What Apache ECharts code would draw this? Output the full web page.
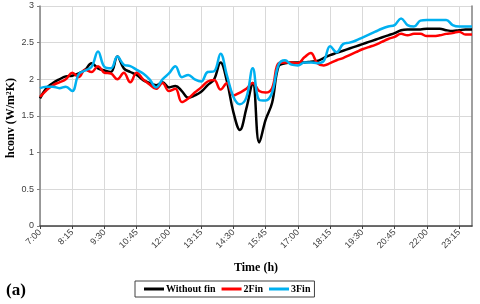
<!DOCTYPE html>
<html><head><meta charset="utf-8">
<script src="https://cdn.jsdelivr.net/npm/echarts@6/dist/echarts.min.js"></script>
<style>html,body{margin:0;padding:0;background:#fff}#c{width:480px;height:304px}</style>
</head><body><div id="c"></div>
<script>
const times = ["7:00","7:15","7:30","7:45","8:00","8:15","8:30","8:45","9:00","9:15","9:30","9:45","10:00","10:15","10:30","10:45","11:00","11:15","11:30","11:45","12:00","12:15","12:30","12:45","13:00","13:15","13:30","13:45","14:00","14:15","14:30","14:45","15:00","15:15","15:30","15:45","16:00","16:15","16:30","16:45","17:00","17:15","17:30","17:45","18:00","18:15","18:30","18:45","19:00","19:15","19:30","19:45","20:00","20:15","20:30","20:45","21:00","21:15","21:30","21:45","22:00","22:15","22:30","22:45","23:00","23:15","23:30","23:45"];
const withoutFin = [1.74,1.88,1.95,2.00,2.04,2.05,2.08,2.13,2.22,2.15,2.12,2.10,2.31,2.15,2.10,2.06,1.99,1.95,1.92,1.96,1.89,1.91,1.84,1.75,1.78,1.83,1.92,2.00,2.23,1.97,1.55,1.31,1.60,1.95,1.14,1.45,1.68,2.18,2.22,2.23,2.23,2.23,2.24,2.25,2.29,2.33,2.36,2.39,2.42,2.45,2.48,2.51,2.54,2.57,2.60,2.63,2.67,2.68,2.68,2.68,2.69,2.69,2.69,2.67,2.66,2.67,2.68,2.68];
const fin2 = [1.76,1.85,1.92,1.96,2.00,2.09,2.03,2.13,2.10,2.18,2.09,2.08,2.00,2.09,1.96,2.09,2.00,1.93,1.87,1.95,1.84,1.87,1.69,1.74,1.82,1.89,1.97,1.99,1.86,1.95,1.78,1.82,1.87,1.95,1.84,1.82,1.88,2.22,2.23,2.23,2.22,2.30,2.36,2.22,2.19,2.22,2.26,2.29,2.33,2.37,2.41,2.44,2.47,2.51,2.55,2.58,2.62,2.60,2.62,2.62,2.59,2.59,2.60,2.62,2.63,2.65,2.61,2.61];
const fin3 = [1.88,1.90,1.90,1.88,1.90,1.84,2.07,2.12,2.17,2.38,2.17,2.15,2.31,2.20,2.18,2.13,2.08,2.00,1.89,2.00,2.08,2.18,2.03,2.06,2.00,1.97,2.10,2.11,2.35,2.05,1.76,1.66,1.75,2.15,1.72,1.71,1.82,2.20,2.26,2.20,2.19,2.23,2.23,2.22,2.25,2.45,2.37,2.48,2.50,2.53,2.57,2.61,2.65,2.69,2.72,2.74,2.83,2.74,2.72,2.80,2.81,2.81,2.81,2.81,2.74,2.72,2.72,2.72];
const seriesNames = ["Without fin","2Fin","3Fin"];
const seriesColors = ["#000000","#ff0000","#00b0f0"];
const yTicks = {min:0, max:3, interval:0.5};

const chart = echarts.init(document.getElementById('c'), null, {renderer:'canvas'});
const serif = '"Liberation Serif","Times New Roman",serif';
const sans = '"Liberation Sans",Arial,sans-serif';
const data = [withoutFin, fin2, fin3];
chart.setOption({
  animation:false,
  backgroundColor:'#fff',
  grid:{left:40,right:8,top:6,bottom:78,containLabel:false,outerBoundsMode:'none'},
  legend:{
    left:135, top:281, padding:[3,4,3,9], itemGap:6,
    itemWidth:20, itemHeight:3, icon:'rect',
    borderColor:'#404040', borderWidth:1,
    textStyle:{fontFamily:serif,fontWeight:'bold',fontSize:10,color:'#000',padding:[0,0,0,-3]},
    data:seriesNames
  },
  graphic:[
    {type:'text',left:6,top:282,style:{text:'(a)',font:'bold 17px '+serif,fill:'#000'}},
    {type:'text',x:11,y:118,rotation:Math.PI/2,
     style:{text:'hconv (W/m²K)',font:'bold 12px '+serif,fill:'#000',align:'center',verticalAlign:'middle'}}
  ],
  xAxis:{
    type:'category', data:times, boundaryGap:false,
    name:'Time (h)', nameLocation:'middle', nameGap:36,
    nameTextStyle:{fontFamily:serif,fontWeight:'bold',fontSize:12,color:'#000'},
    axisLine:{lineStyle:{color:'#404040',width:1.5}},
    axisTick:{interval:4,length:3,lineStyle:{color:'#404040'}},
    axisLabel:{interval:4,rotate:45,margin:5,fontFamily:sans,fontSize:9,color:'#404040'},
    splitLine:{show:true,interval:4,lineStyle:{color:'#d9d9d9',width:1}}
  },
  yAxis:[{
    type:'value', min:yTicks.min, max:yTicks.max, interval:yTicks.interval,
    axisLine:{show:true,lineStyle:{color:'#808080',width:1.5}},
    axisTick:{show:true,length:3,lineStyle:{color:'#808080'}},
    axisLabel:{margin:6,fontFamily:sans,fontSize:9,color:'#404040'},
    splitLine:{show:true,lineStyle:{color:'#d9d9d9',width:1}}
  },{
    type:'value', min:yTicks.min, max:yTicks.max, interval:yTicks.interval, position:'right',
    axisLine:{show:true,lineStyle:{color:'#808080',width:1.5}},
    axisTick:{show:false}, axisLabel:{show:false}, splitLine:{show:false}
  }],
  series: data.map((d,i)=>({
    name:seriesNames[i], type:'line', data:d, smooth:0.4, showSymbol:false, symbol:'none',
    lineStyle:{color:seriesColors[i],width:2.5}, itemStyle:{color:seriesColors[i]}
  }))
});
</script></body></html>
